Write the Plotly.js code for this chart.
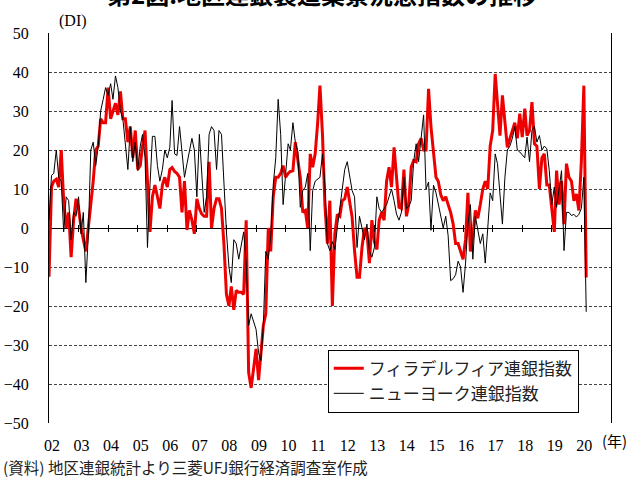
<!DOCTYPE html>
<html><head><meta charset="utf-8">
<script src="https://cdn.plot.ly/plotly-3.0.1.min.js"></script>
<style>html,body{margin:0;padding:0;background:#fff}#chart{width:634px;height:477px}</style>
</head><body><div id="chart"></div>
<script>
const startYear = 2002;
const startMonth = 1;
const yearLabels = ['02','03','04','05','06','07','08','09','10','11','12','13','14','15','16','17','18','19','20'];
const seriesNames = ['フィラデルフィア連銀指数', 'ニューヨーク連銀指数'];

// Philadelphia Fed index, monthly from Jan 2002 (one row per year)
const phillyValues = [
  -12.5, 10.5, 12, 12.5, 10.5, 20, 7, 0, 4, -7.5, 2, 7.5,
  5, 0, -3, -6, 0, 6, 12, 20, 21, 28, 27, 27,
  36, 28, 30, 32, 29, 35, 28, 28, 22, 26, 18, 25,
  15, 16, 21, 25, 12, -1, 8, 11, 8, 5, 11, 13,
  10.5, 15, 15.5, 14.5, 14, 13, 4, 12, -0.5, 4.5, 2, -1.5,
  7.5, 5, 3.6, 3, 3, 17, 0, 5, 7.5, 7.5, 5, -4,
  -17, -20, -15, -21, -16, -16.5, -16.5, -17, 2, -37, -41, -36,
  -31, -39, -33, -25, -22, 0, -6, 8, 13, 13, 14, 16,
  13, 14, 14.5, 14.7, 22, 18, 13, 4, 4.5, 0, 19, 15.6,
  19, 27, 36.5, 24, 6, -4, 7, -20, -1.5, 3.5, 3, 7,
  7.5, 10.5, 7, 2.8, -5.8, -12.6, -12.6, -5, 0, -1, -9, 2,
  -3.5, -5.5, 2, 4, 2, 12, 15.6, 10.5, 20.7, 12.2, 5.3, 5,
  15, 3, 6, 15.6, 17.3, 17, 21.6, 23, 20, 20, 35.7, 25.9,
  19, 13, 12, 8.5, 7, 8, 6, 4, 1, -4, -4, -6,
  -8, -3, 9, -6, -2, 4.5, 2.5, 6, 10, 12, 10, 21,
  25, 39.5, 32, 23.7, 34, 27.6, 20.7, 22.9, 25, 27, 23, 29.3,
  23.3, 30.6, 23.7, 25, 32.3, 21.6, 21, 10, 18, 19, 11, 11,
  5, -1, 14.7, 6, 12, 1, 16.5, 13, 12, 7, 8.7, 4.5,
  17, 36.5, -12.7
];

// New York Fed (Empire State) index, monthly from Jan 2002
const nyValues = [
  2, 13.5, 14, 20, 13, 12, -1, 8, 7, -3, 4, 3,
  8, -1.5, 4, -14, -2, 20, 22, 16, 21, 30, 33, 36,
  34, 37, 33, 39, 36, 30, 28, 21.6, 15, 26, 17, 22,
  14.7, 21, 24, 18, -5, 11, 23.5, 23.5, 16, 12, 15, 20,
  18, 20.7, 32.7, 19, 18.6, 26, 18.6, 13, 16.5, 20, 23, 20,
  8, 24, 14, 4, 8, 24, 26, 25, 15, 25, 24, 10,
  -1, -10, -14, -3, -4, -8, -5, -1, -9, -25, -22, -24,
  -26, -32, -34, -25, -6, -8, -2, 11, 18, 33, 24, 6,
  14, 21.6, 20, 27, 22, 19.5, 5.3, 9.6, 10.5, 14, -5.8, 9.6,
  12, 12.6, 13, 19, 11, -4, -5.8, -3.5, -5.5, 0, 5, 11,
  15, 17, 13, 9.6, 8, -5, 3, -0.5, -3, 1, -6, -7.5,
  -5, 8, 5, 4, 5, 6, 8, 10, 7, 3.6, 2, 4,
  13, 5, 5.5, 7, 17, 21.6, 17, 23, 29, 10, 11.8, -0.6,
  11, 9, 6, 3, 0, 3, -2, -13.5, -13, -12, -8.5, -10,
  -16.5, -9, 1, 6, -8, 3, 0, -4, -1.5, -9, 0, 9,
  7, 19, 16.5, 8, 1, 13, 20, 21, 23, 26, 20, 19.5,
  18.6, 18, 23.3, 17, 25, 26, 22, 23.7, 20, 21, 20.3, 14.7,
  6, 10.5, 5.3, 10.5, 14.7, -5.8, 4, 4, 3.2, 3.5, 2.8, 3.5,
  5, 13, -21.5
];

function monthDate(i) {
  const y = startYear + Math.floor((startMonth - 1 + i) / 12);
  const m = (startMonth - 1 + i) % 12 + 1;
  return y + '-' + String(m).padStart(2, '0') + '-01';
}
const dates = phillyValues.map((_, i) => monthDate(i));
const nyDates = nyValues.map((_, i) => monthDate(i));

const yearStarts = yearLabels.map((_, k) => (startYear + k) + '-01-01');
const labelPos = yearLabels.map((_, k) => (startYear + k) + '-02-06');
const xRange = [startYear + '-01-01', (startYear + yearLabels.length) + '-01-01'];

const serif = '"Liberation Serif", "Times New Roman", serif';
const jp = '"Noto Sans CJK JP", sans-serif';

const traces = [
  {x: dates, y: phillyValues, type: 'scatter', mode: 'lines', name: seriesNames[0],
   line: {color: '#ee0000', width: 3}, legendgroup: 'a'},
  {x: nyDates, y: nyValues, type: 'scatter', mode: 'lines', name: seriesNames[1],
   line: {color: '#000000', width: 1}, legendgroup: 'b'},
  {x: [], y: [], xaxis: 'x2', type: 'scatter', showlegend: false, hoverinfo: 'skip'},
  {x: [], y: [], xaxis: 'x3', type: 'scatter', showlegend: false, hoverinfo: 'skip'}
];

const tickAxisCommon = {
  type: 'date', range: xRange, overlaying: 'x', anchor: 'free', position: 0.5,
  tickmode: 'array', tickvals: yearStarts.slice(1), showticklabels: false,
  ticks: 'outside', ticklen: 3, tickwidth: 1, tickcolor: '#000',
  showgrid: false, zeroline: false, showline: false
};

const layout = {
  width: 634, height: 477,
  margin: {l: 49, r: 23, t: 33, b: 54},
  paper_bgcolor: '#fff', plot_bgcolor: '#fff',
  showlegend: true,
  legend: {
    x: 0.496, y: 0.188, xanchor: 'left', yanchor: 'top',
    bgcolor: '#fff', bordercolor: '#000', borderwidth: 1,
    font: {family: jp, size: 17, color: '#222'},
    tracegroupgap: 0, itemwidth: 30
  },
  xaxis: {
    type: 'date', range: xRange,
    tickmode: 'array', tickvals: labelPos, ticktext: yearLabels,
    ticks: 'outside', ticklen: 8, tickcolor: 'rgba(0,0,0,0)',
    tickfont: {family: serif, size: 16, color: '#000'},
    showgrid: false, zeroline: false, showline: false
  },
  xaxis2: Object.assign({side: 'bottom'}, tickAxisCommon),
  xaxis3: Object.assign({side: 'top'}, tickAxisCommon),
  yaxis: {
    range: [-50, 50], dtick: 10, tick0: 0,
    ticks: 'outside', ticklen: 16, tickcolor: 'rgba(0,0,0,0)',
    tickfont: {family: serif, size: 16, color: '#000'},
    showgrid: true, gridcolor: '#444', griddash: '3px,2px', gridwidth: 1,
    zeroline: true, zerolinecolor: '#000', zerolinewidth: 1,
    showline: true, mirror: true, linecolor: '#000', linewidth: 1
  },
  annotations: [
    {text: '第2図:地区連銀製造業景況感指数の推移', xref: 'paper', yref: 'paper',
     x: 0.486, y: 1.1, xanchor: 'center', yanchor: 'middle', showarrow: false,
     font: {family: jp, size: 24, color: '#000', weight: 'bold'}},
    {text: '(DI)', xref: 'paper', yref: 'paper', x: 0.014, y: 1.031,
     xanchor: 'left', yanchor: 'middle', showarrow: false,
     font: {family: serif, size: 16, color: '#000'}},
    {text: '(年)', xref: 'paper', yref: 'paper', x: 0.981, y: -0.045,
     xanchor: 'left', yanchor: 'middle', showarrow: false,
     font: {family: jp, size: 15, color: '#000'}},
    {text: '(資料) 地区連銀統計より三菱UFJ銀行経済調査室作成', xref: 'paper', yref: 'paper',
     x: -0.085, y: -0.112, xanchor: 'left', yanchor: 'middle', showarrow: false,
     font: {family: jp, size: 15.5, color: '#222'}}
  ]
};

Plotly.newPlot('chart', traces, layout, {displayModeBar: false, staticPlot: true});
</script>
</body></html>
